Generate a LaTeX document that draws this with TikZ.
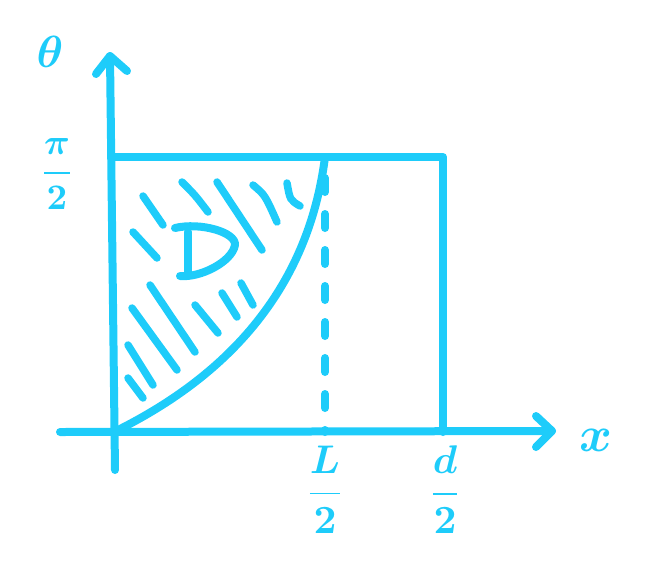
\documentclass[tikz,border=0pt]{standalone}
\usepackage{amsmath}
\usepackage{graphicx}
\usetikzlibrary{arrows.meta}
\definecolor{sky}{RGB}{30,204,250}
\begin{document}
\begin{tikzpicture}[x=1pt,y=-1pt,
  pen/.style={draw=sky,line width=8pt,line cap=round,line join=round},
  hatch/.style={draw=sky,line width=7.5pt,line cap=round},
  lbl/.style={text=sky,inner sep=0pt,font=\boldmath}]
\useasboundingbox (0,0) rectangle (647,582);
% key points
\coordinate (O) at (114,432);
\coordinate (ytop) at (110,56);
\coordinate (ybot) at (115,470);
\coordinate (xleft) at (60,432);
\coordinate (xright) at (552,431);
\coordinate (TL) at (114,157);
\coordinate (TM) at (325,157);
\coordinate (TR) at (443,157);
\coordinate (BR) at (443,432);
\coordinate (BM) at (325,432);
% axes
\draw[pen] (ybot) -- (ytop);
\draw[pen] (96,74) -- (ytop) -- (127,71);
\draw[pen] (xleft) -- (xright);
\draw[pen] (536,416) -- (xright) -- (536,447);
% rectangle
\draw[pen] (TL) -- (TR) -- (BR);
% curve
\draw[pen] (O) .. controls (195,392) and (305,315) .. (TM);
% dashed line
\draw[pen,dash pattern=on 14pt off 22pt] (325,178) -- (BM);
% hatching
\draw[hatch] (143,196) -- (163,225);
\draw[hatch] (182,182) .. controls (195,195) .. (208,212);
\draw[hatch] (217,182) -- (262,250);
\draw[hatch] (253,185) .. controls (265,195) .. (277,222);
\draw[hatch] (287,183) .. controls (290,200) .. (300,206);
\draw[hatch] (133,232) -- (157,258);
\draw[hatch] (150,285) -- (195,352);
\draw[hatch] (132,308) -- (177,370);
\draw[hatch] (128,345) -- (153,385);
\draw[hatch] (128,378) -- (143,398);
\draw[hatch] (195,305) -- (218,333);
\draw[hatch] (222,293) -- (237,317);
\draw[hatch] (241,283) -- (253,305);
% letter D
\draw[pen] (188,232) -- (188,272);
\draw[pen] (175,228) .. controls (200,222) and (236,232) .. (235,245)
   .. controls (232,262) and (200,278) .. (180,276);
% labels
\node[lbl] (theta) at (50,52) {\scalebox{4.5}{$\theta$}};
\node[lbl] (pi2) at (57,174) {\scalebox{3.6}{$\dfrac{\pi}{2}$}};
\node[lbl] (L2) at (325,490) {\scalebox{4}{$\dfrac{L}{2}$}};
\node[lbl] (d2) at (445,490) {\scalebox{4}{$\dfrac{d}{2}$}};
\node[lbl] (xl) at (596,440) {\scalebox{5}{$x$}};
\end{tikzpicture}
\end{document}
